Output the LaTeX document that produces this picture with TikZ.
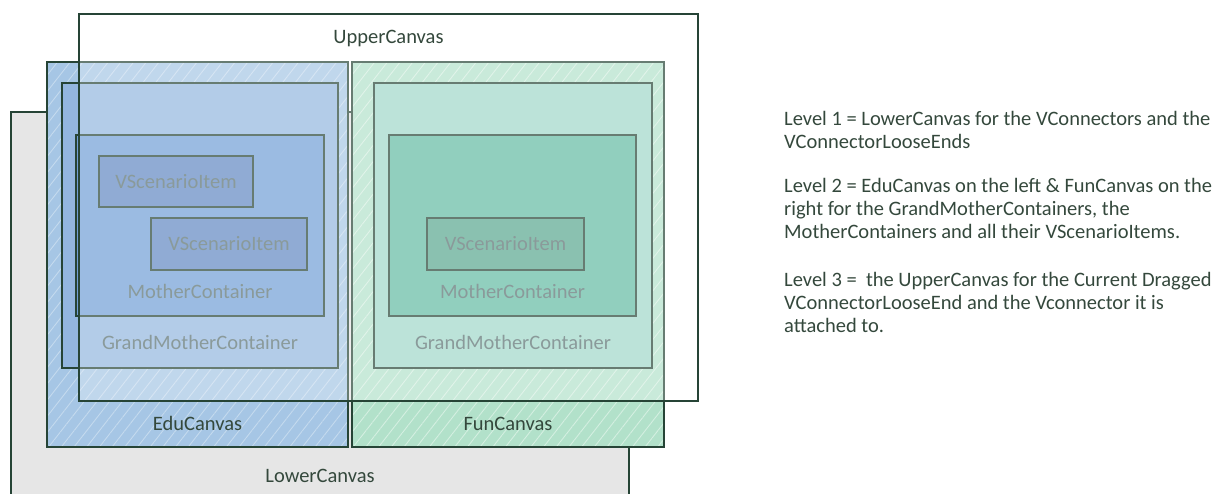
\documentclass[tikz,border=0pt]{standalone}
\usepackage{fontspec}
\setmainfont{Carlito}
\usetikzlibrary{positioning,patterns.meta}

\definecolor{edge}{HTML}{264436}
\definecolor{lowerfill}{HTML}{E6E6E6}
\definecolor{edufill}{HTML}{A6C6E5}
\definecolor{eduhatch}{HTML}{C4DAEE}
\definecolor{edugm}{HTML}{93B6DF}
\definecolor{edum}{HTML}{719FD6}
\definecolor{eduitem}{HTML}{6088C2}
\definecolor{funfill}{HTML}{B2E1CA}
\definecolor{funhatch}{HTML}{D4EFE1}
\definecolor{fungm}{HTML}{A0D8C9}
\definecolor{funm}{HTML}{62BBA3}
\definecolor{funitem}{HTML}{58A78F}
\definecolor{innertxt}{HTML}{586F6F}
\definecolor{txt}{HTML}{34483C}

\tikzset{
  box/.style={draw=edge, line width=1.4pt, inner sep=0pt, outer sep=0pt, anchor=north west},
  hatched/.style={box, preaction={fill=#1fill},
    pattern={Lines[angle=52, distance=10pt, line width=0.9pt]}, pattern color=#1hatch},
  lbl/.style={font=\fontsize{20.5}{23}\selectfont, text=txt, inner sep=0pt},
  inlbl/.style={lbl, text=innertxt},
  note/.style={lbl, align=left, anchor=north west},
}

\begin{document}
\begin{tikzpicture}[x=1pt, y=-1pt]
  \useasboundingbox (0,0) rectangle (1217,493);
  \clip (0,0) rectangle (1217,493);

  \node[box, fill=lowerfill, minimum width=618pt, minimum height=420pt] (lower) at (11,112) {};

  \node[hatched=edu, minimum width=301pt, minimum height=385pt] (edu) at (47,62) {};
  \node[hatched=fun, minimum width=312pt, minimum height=385pt] (fun) at (352,62) {};

  \node[box, fill=edugm, minimum width=276pt, minimum height=285pt] (eduGM) at (62,83) {};
  \node[box, fill=edum, minimum width=248pt, minimum height=181pt] (eduM) at (76,135) {};
  \node[box, fill=eduitem, minimum width=154pt, minimum height=51pt] (item1) at (99,156) {};
  \node[box, fill=eduitem, minimum width=156pt, minimum height=52pt] (item2) at (151,218) {};

  \node[box, fill=fungm, minimum width=278pt, minimum height=285pt] (funGM) at (374,83) {};
  \node[box, fill=funm, minimum width=247pt, minimum height=181pt] (funM) at (389,135) {};
  \node[box, fill=funitem, minimum width=157pt, minimum height=52pt] (item3) at (427,218) {};

  \node[inlbl] at (item1.center) {VScenarioItem};
  \node[inlbl] at (item2.center) {VScenarioItem};
  \node[inlbl] at (item3.center) {VScenarioItem};
  \node[inlbl, above=17pt of eduM.south] (eduMT) {MotherContainer};
  \node[inlbl, above=17pt of funM.south] (funMT) {MotherContainer};
  \node[inlbl, above=18pt of eduGM.south] (eduGMT) {GrandMotherContainer};
  \node[inlbl, above=18pt of funGM.south] (funGMT) {GrandMotherContainer};

  \node[box, fill=white, fill opacity=0.3, minimum width=619pt, minimum height=387pt] (upper) at (79,14) {};

  \node[lbl, below=16pt of upper.north] (upperT) {UpperCanvas};
  \node[lbl, above=16pt of edu.south] (eduT) {EduCanvas};
  \node[lbl, above=16pt of fun.south] (funT) {FunCanvas};
  \node[lbl] (lowerT) at (320,476) {LowerCanvas};

  \node[note] (level1) at (784,111) {Level 1 = LowerCanvas for the VConnectors and the\\VConnectorLooseEnds};
  \node[note] (level2) at (784,178) {Level 2 = EduCanvas on the left \& FunCanvas on the\\right for the GrandMotherContainers, the\\MotherContainers and all their VScenarioItems.};
  \node[note] (level3) at (784,272) {Level 3 = \ the UpperCanvas for the Current Dragged\\VConnectorLooseEnd and the Vconnector it is\\attached to.};
\end{tikzpicture}
\end{document}
